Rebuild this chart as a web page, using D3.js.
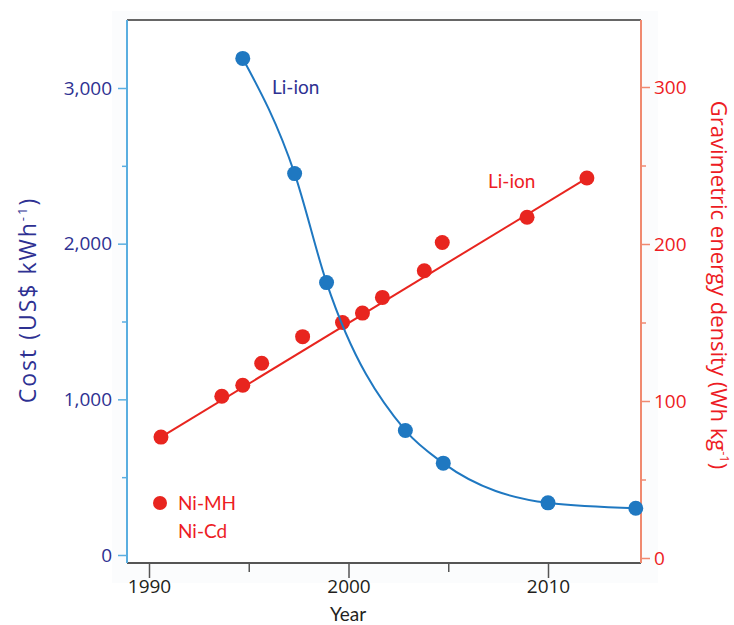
<!DOCTYPE html>
<html>
<head>
<meta charset="utf-8">
<script src="https://cdn.jsdelivr.net/npm/d3@7"></script>
<style>
  body { margin: 0; background: #fff; }
  text { font-family: "Open Sans", sans-serif; }
  .lbl { font-family: Lato, "Open Sans", sans-serif; }
</style>
</head>
<body>
<div id="chart"></div>
<script>
// Data.
var costYears = [1994.7, 1997.3, 1998.9, 2002.85, 2004.75, 2010, 2014.4];
var costValues = [3190, 2450, 1750, 800, 590, 335, 300];

var densityYears = [1990.6, 1993.65, 1994.7, 1995.65, 1997.7, 1999.7, 2000.7, 2001.7, 2003.8, 2004.7, 2008.95, 2011.95];
var densityValues = [77, 103, 110, 124, 141, 150, 156, 166, 183, 201, 217, 242];

// Linear fit drawn in the picture (end points).
var fitYears = [1990.6, 2011.95];
var fitValues = [77, 242];

var yearTicks = [1990, 2000, 2010];
var yearMinor = [1995, 2005];
var costTicks = [0, 1000, 2000, 3000];
var costMinor = [500, 1500, 2500];
var densityTicks = [0, 100, 200, 300];
var densityMinor = [50, 150, 250];

// Dimensions.
var W = 734, H = 625;
var mLeft = 127, mRight = 641, mTop = 20, mBottom = 563;

var svg = d3.select("#chart")
    .append("svg")
    .attr("width", W)
    .attr("height", H);

// Scales.
var x = d3.scaleLinear().domain([1990, 2010]).range([149, 548]);
var yCost = d3.scaleLinear().domain([0, 3000]).range([555, 88]);
var yDen = d3.scaleLinear().domain([0, 300]).range([558, 87]);

// Faint panel behind the plot.
svg.append("rect")
    .attr("x", 112).attr("y", 11)
    .attr("width", 546).attr("height", 572)
    .attr("fill", "#fbfcfd");
svg.append("rect")
    .attr("x", mLeft).attr("y", mTop)
    .attr("width", mRight - mLeft).attr("height", mBottom - mTop)
    .attr("fill", "#fff");

// Axes.
function styleAxis(g, color, textColor) {
    g.select(".domain").remove();
    g.selectAll("line").attr("stroke", color).attr("stroke-width", 1.5);
    g.selectAll("text").attr("fill", textColor).style("font-size", "19px");
}

var xAxis = svg.append("g")
    .attr("transform", "translate(0," + mBottom + ")")
    .call(d3.axisBottom(x).tickValues(yearTicks).tickFormat(d3.format("d")).tickSize(15).tickPadding(2));
styleAxis(xAxis, "#555", "#231f20");
svg.append("g")
    .attr("transform", "translate(0," + mBottom + ")")
    .call(d3.axisBottom(x).tickValues(yearMinor).tickFormat("").tickSize(9))
    .call(function(g) { styleAxis(g, "#555", "#231f20"); });

var yAxisL = svg.append("g")
    .attr("transform", "translate(" + mLeft + ",0)")
    .call(d3.axisLeft(yCost).tickValues(costTicks).tickFormat(d3.format(",")).tickSize(9).tickPadding(6));
styleAxis(yAxisL, "#5aaee0", "#2e3192");
svg.append("g")
    .attr("transform", "translate(" + mLeft + ",0)")
    .call(d3.axisLeft(yCost).tickValues(costMinor).tickFormat("").tickSize(5))
    .call(function(g) { styleAxis(g, "#5aaee0", "#2e3192"); });

var yAxisR = svg.append("g")
    .attr("transform", "translate(" + mRight + ",0)")
    .call(d3.axisRight(yDen).tickValues(densityTicks).tickFormat(d3.format("d")).tickSize(9).tickPadding(4));
styleAxis(yAxisR, "#f08a70", "#ed1c24");
svg.append("g")
    .attr("transform", "translate(" + mRight + ",0)")
    .call(d3.axisRight(yDen).tickValues(densityMinor).tickFormat("").tickSize(5))
    .call(function(g) { styleAxis(g, "#f08a70", "#ed1c24"); });

// Frame lines.
svg.append("line").attr("x1", mLeft).attr("x2", mRight).attr("y1", mTop).attr("y2", mTop)
    .attr("stroke", "#666").attr("stroke-width", 2);
svg.append("line").attr("x1", mLeft).attr("x2", mRight).attr("y1", mBottom).attr("y2", mBottom)
    .attr("stroke", "#555").attr("stroke-width", 2);
svg.append("line").attr("x1", mLeft).attr("x2", mLeft).attr("y1", mTop).attr("y2", mBottom)
    .attr("stroke", "#5aaee0").attr("stroke-width", 2);
svg.append("line").attr("x1", mRight).attr("x2", mRight).attr("y1", mTop).attr("y2", mBottom)
    .attr("stroke", "#f08a70").attr("stroke-width", 2);

// Axis titles.
svg.append("text")
    .attr("x", 348).attr("y", 621)
    .attr("text-anchor", "middle")
    .attr("class", "lbl")
    .attr("fill", "#231f20")
    .style("font-size", "19px")
    .text("Year");

var tl = svg.append("text")
    .attr("transform", "translate(36,300) rotate(-90)")
    .attr("text-anchor", "middle")
    .attr("fill", "#2e3192")
    .style("font-size", "23px")
    .style("letter-spacing", "2px");
tl.append("tspan").text("Cost (US$ kWh");
tl.append("tspan").attr("dy", -9).style("font-size", "13px").text("-1");
tl.append("tspan").attr("dy", 9).text(")");

var tr = svg.append("text")
    .attr("transform", "translate(711,285) rotate(90)")
    .attr("text-anchor", "middle")
    .attr("fill", "#ed1c24")
    .style("font-size", "22px");
tr.append("tspan").text("Gravimetric energy density (Wh kg");
tr.append("tspan").attr("dy", -9).style("font-size", "13px").text("-1");
tr.append("tspan").attr("dy", 9).text(")");

// Red series: fit line and points.
var density = densityYears.map(function(d, i) { return {year: d, value: densityValues[i]}; });
var fit = fitYears.map(function(d, i) { return {year: d, value: fitValues[i]}; });

svg.append("path")
    .datum(fit)
    .attr("fill", "none")
    .attr("stroke", "#e8251f")
    .attr("stroke-width", 2)
    .attr("d", d3.line()
        .x(function(d) { return x(d.year); })
        .y(function(d) { return yDen(d.value); }));

svg.selectAll(".den")
    .data(density)
    .enter().append("circle")
    .attr("class", "den")
    .attr("cx", function(d) { return x(d.year); })
    .attr("cy", function(d) { return yDen(d.value); })
    .attr("r", 7.5)
    .attr("fill", "#e8251f");

// Blue series: smooth curve and points.
var cost = costYears.map(function(d, i) { return {year: d, value: costValues[i]}; });

svg.append("path")
    .datum(cost)
    .attr("fill", "none")
    .attr("stroke", "#1f78c1")
    .attr("stroke-width", 2)
    .attr("d", d3.line()
        .curve(d3.curveMonotoneX)
        .x(function(d) { return x(d.year); })
        .y(function(d) { return yCost(d.value); }));

svg.selectAll(".cost")
    .data(cost)
    .enter().append("circle")
    .attr("class", "cost")
    .attr("cx", function(d) { return x(d.year); })
    .attr("cy", function(d) { return yCost(d.value); })
    .attr("r", 7.5)
    .attr("fill", "#1f78c1");

// Labels.
svg.append("text")
    .attr("class", "lbl")
    .attr("x", 272).attr("y", 94)
    .attr("fill", "#2e3192")
    .style("font-size", "19px")
    .text("Li-ion");

svg.append("text")
    .attr("class", "lbl")
    .attr("x", 488).attr("y", 188)
    .attr("fill", "#ed1c24")
    .style("font-size", "19px")
    .text("Li-ion");

// Legend.
svg.append("circle")
    .attr("cx", 160).attr("cy", 503).attr("r", 7)
    .attr("fill", "#e8251f");
svg.append("text")
    .attr("class", "lbl")
    .attr("x", 178).attr("y", 510)
    .attr("fill", "#ed1c24")
    .style("font-size", "19px")
    .text("Ni-MH");
svg.append("text")
    .attr("class", "lbl")
    .attr("x", 178).attr("y", 538)
    .attr("fill", "#ed1c24")
    .style("font-size", "19px")
    .text("Ni-Cd");
</script>
</body>
</html>
